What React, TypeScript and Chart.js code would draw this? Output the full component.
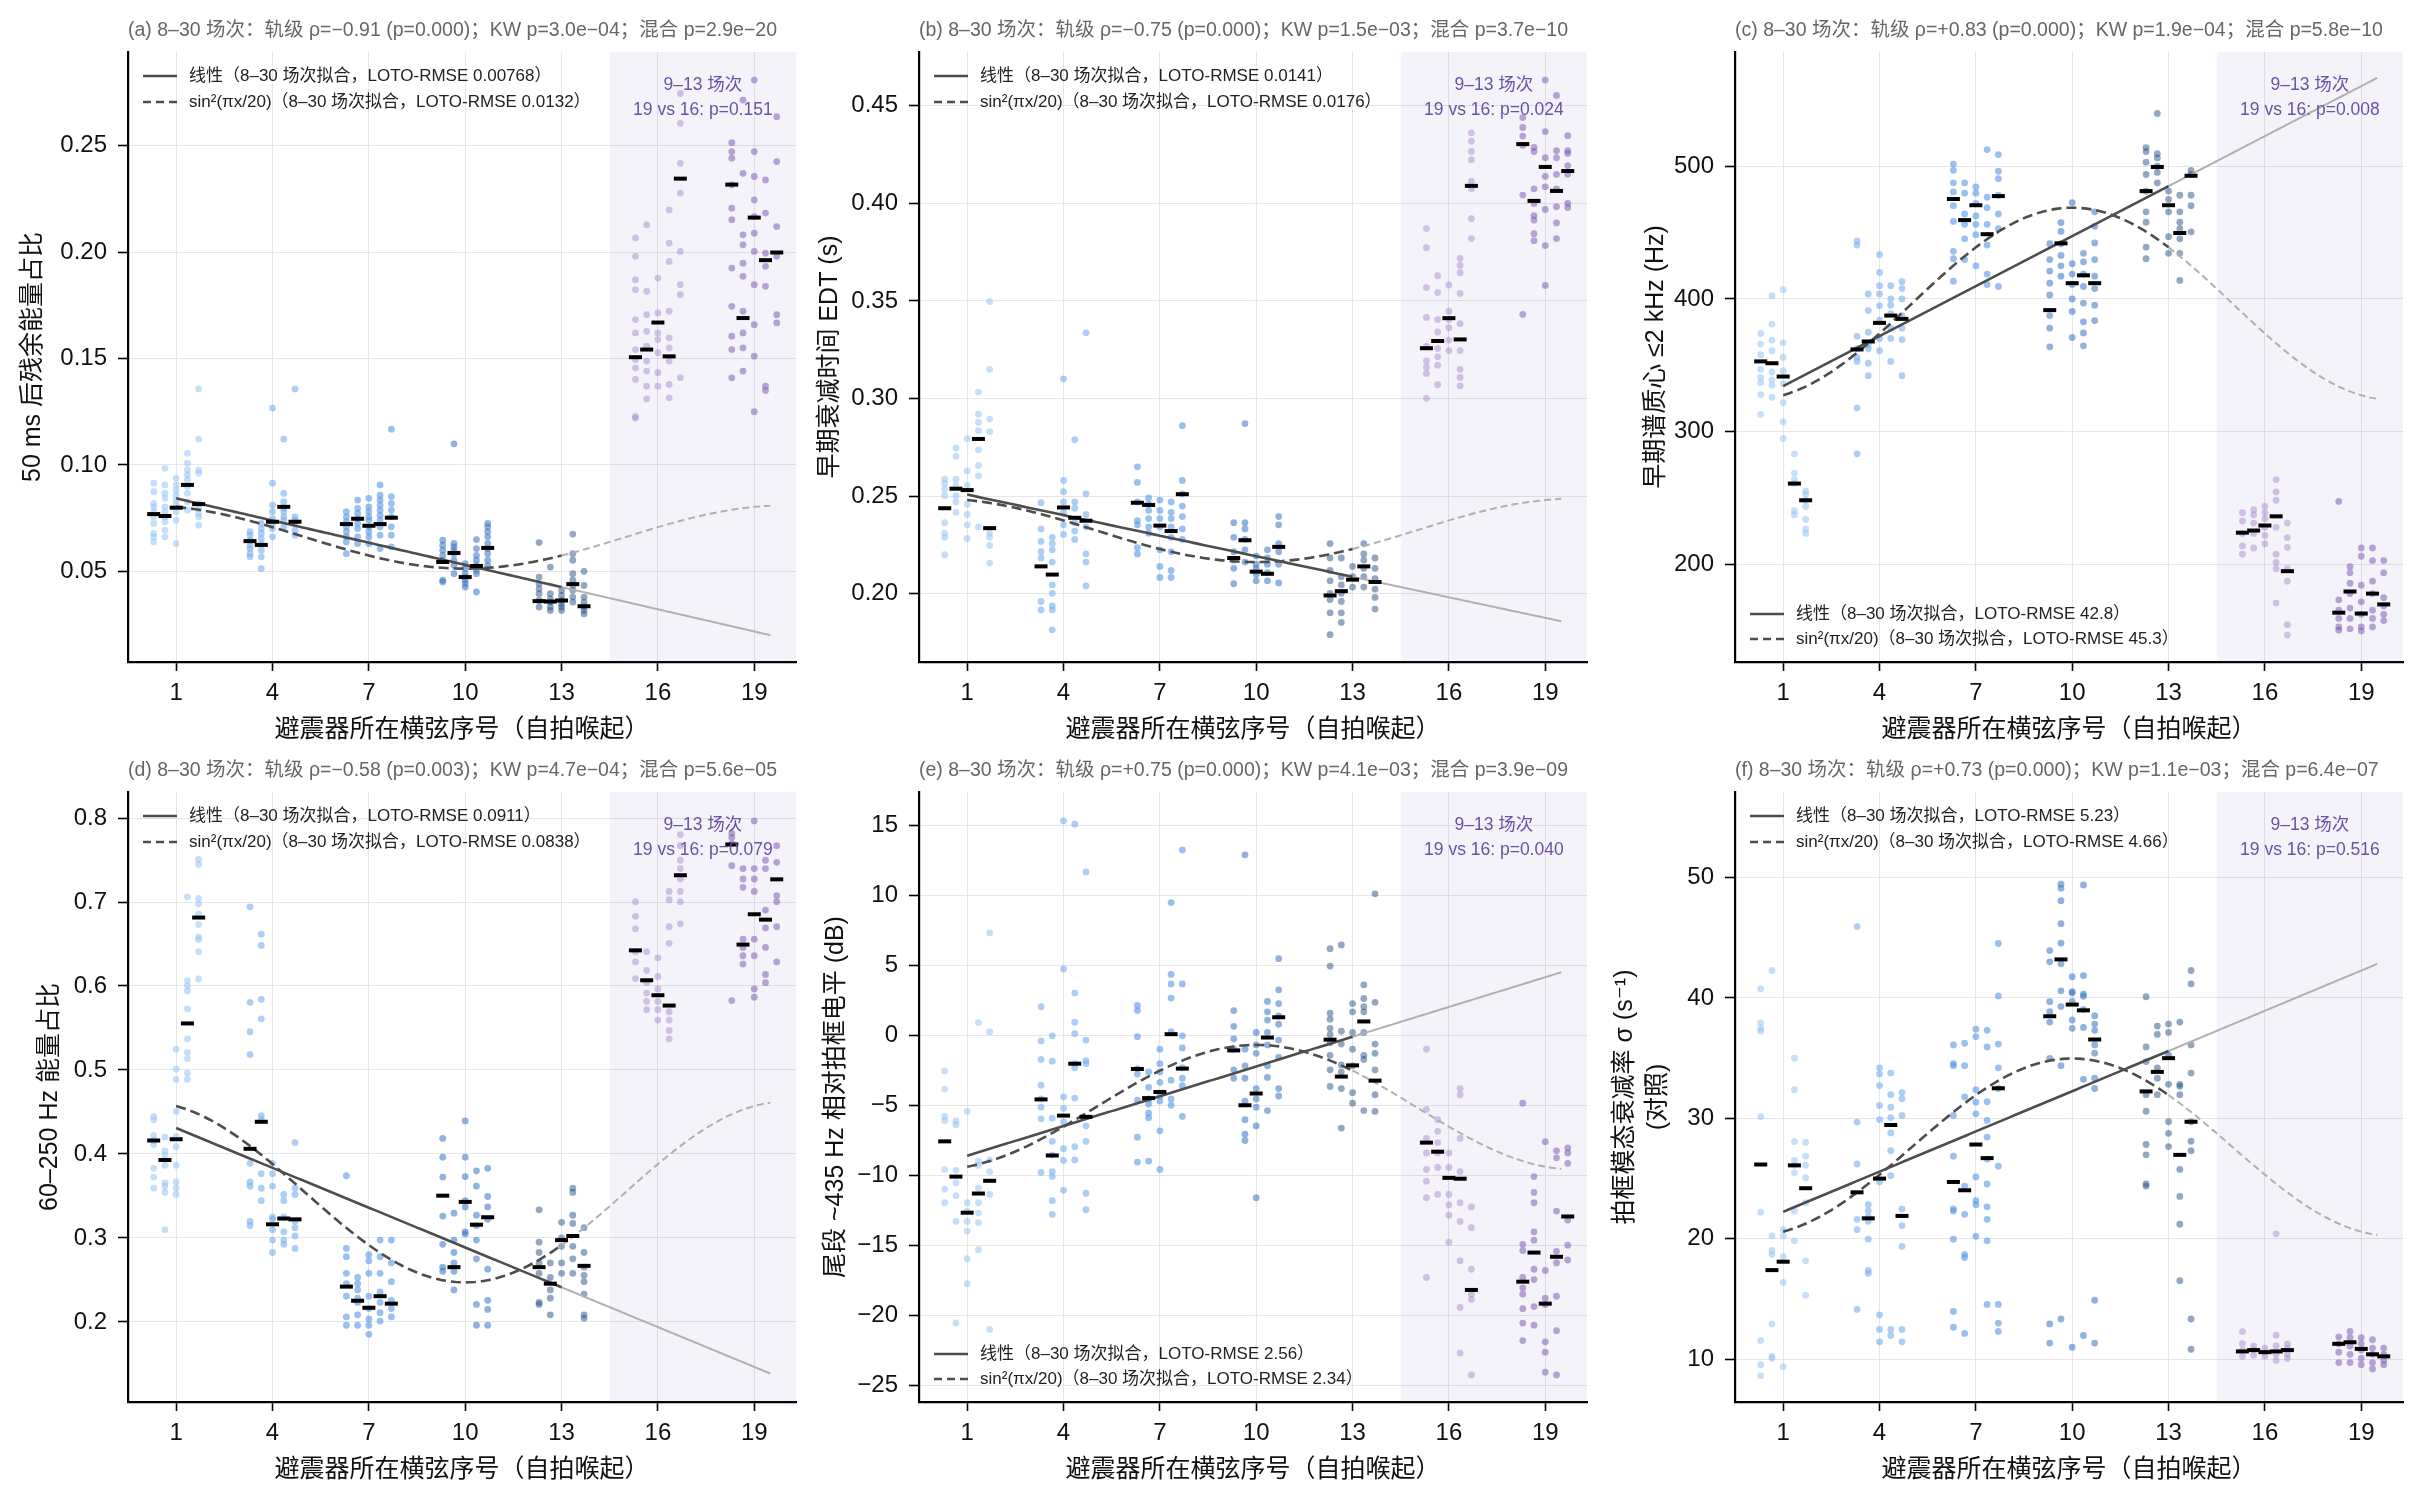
import React, { useEffect, useRef } from "react";
import { Chart, registerables } from "chart.js";

Chart.register(...registerables);

const FONT = '"Liberation Sans", "Noto Sans CJK SC", "DejaVu Sans", sans-serif';

// ---------- categories / positions ----------
const GROUPS = [1, 4, 7, 10, 13, 16, 19];
const SESSION_OFFSETS = [-0.7, -0.35, 0, 0.35, 0.7];
const X_TICKS = [1, 4, 7, 10, 13, 16, 19];
const GROUP_COLORS = [
  "rgba(150,195,245,0.55)",
  "rgba(120,175,238,0.6)",
  "rgba(85,150,228,0.6)",
  "rgba(55,115,195,0.55)",
  "rgba(40,80,135,0.5)",
  "rgba(170,140,210,0.5)",
  "rgba(130,95,180,0.55)",
];

// ---------- panel (a) ----------
const PTS_A = [
  [0.0914,0.0874,0.0819,0.0803,0.078,0.0756,0.0725,0.0678,0.0662,0.0638],
  [0.0984,0.0906,0.0866,0.0843,0.0803,0.078,0.0756,0.0733,0.0693,0.0662],
  [0.0937,0.0906,0.0882,0.0858,0.0835,0.0811,0.078,0.074,0.063],
  [0.1055,0.1008,0.0976,0.0953,0.0929,0.0898,0.0866,0.0827,0.0788],
  [0.1357,0.1121,0.0976,0.0961,0.0819,0.0796,0.0772,0.0756,0.0717],
  [0.0686,0.067,0.0646,0.0623,0.0607,0.0583,0.0568],
  [0.0725,0.0701,0.0678,0.0654,0.063,0.0599,0.0568,0.0513],
  [0.1267,0.0914,0.0811,0.078,0.0748,0.0725,0.0701,0.0662],
  [0.1121,0.0866,0.0827,0.0796,0.078,0.0756,0.0741,0.0709],
  [0.1357,0.0756,0.074,0.0725,0.0693,0.067],
  [0.078,0.0756,0.0733,0.0709,0.0686,0.0662,0.0638,0.0583],
  [0.0835,0.0796,0.0772,0.0748,0.0725,0.0701,0.0662,0.063],
  [0.0843,0.0803,0.078,0.0756,0.0741,0.0709,0.0686,0.0662,0.063],
  [0.0906,0.0858,0.0835,0.0811,0.0788,0.0764,0.0741,0.0709,0.067,0.0607],
  [0.1168,0.0851,0.0819,0.0788,0.0756,0.0709,0.067,0.0615],
  [0.0646,0.0623,0.0599,0.0575,0.0552,0.0458,0.045],
  [0.1099,0.0631,0.0615,0.0599,0.0583,0.0552,0.0528,0.0489],
  [0.0536,0.0513,0.0489,0.0473,0.0458,0.0442,0.0426],
  [0.0649,0.0607,0.0575,0.0552,0.0528,0.0505,0.0489,0.0403],
  [0.0725,0.0709,0.0686,0.0662,0.0631,0.0607,0.0583,0.0552,0.0528],
  [0.0635,0.0473,0.0442,0.0418,0.0395,0.0363,0.0332],
  [0.052,0.0395,0.0371,0.0355,0.0332,0.0316],
  [0.041,0.0387,0.0363,0.0347,0.0332,0.0316],
  [0.0675,0.0583,0.0552,0.0489,0.0458,0.0434,0.041,0.0379,0.0355],
  [0.05,0.0434,0.0379,0.0355,0.0332,0.0316,0.03],
  [0.2066,0.198,0.187,0.1823,0.1683,0.162,0.1542,0.1495,0.1456,0.1402,0.1228,0.122],
  [0.2128,0.1816,0.1706,0.1628,0.1558,0.1488,0.1441,0.137,0.131],
  [0.1878,0.1714,0.162,0.1589,0.1527,0.1433,0.137],
  [0.2198,0.2042,0.1956,0.1722,0.1597,0.155,0.1488,0.1378,0.1315],
  [0.2745,0.2605,0.2417,0.2277,0.2003,0.1847,0.18,0.141],
  [0.2514,0.2472,0.2441,0.2316,0.2206,0.2152,0.1925,0.1745,0.1605,0.1542,0.1409],
  [0.2714,0.237,0.2081,0.2034,0.1948,0.1886,0.1722,0.162,0.155,0.1441],
  [0.2808,0.2472,0.2355,0.2245,0.2167,0.2089,0.2003,0.1847,0.1659,0.1511,0.125],
  [0.2339,0.2183,0.1995,0.1933,0.1839,0.137,0.135],
  [0.2636,0.2425,0.212,0.198,0.1706,0.1667],
];
const MED_A = [0.0769,0.076,0.0799,0.0906,0.0816, 0.0642,0.0624,0.0733,0.0803,0.0733, 0.0722,0.0747,0.0714,0.0722,0.0752, 0.0544,0.0586,0.0473,0.0525,0.061, 0.036,0.0358,0.0363,0.044,0.0336, 0.1506,0.1542,0.1669,0.151,0.2345, 0.2317,0.169,0.2162,0.1962,0.1998];
const LIN_A = [0.0843, -0.003475];
const SIN_A = [0.081, -0.02973];
const YT_A = [0.05, 0.1, 0.15, 0.2, 0.25];
const RMSE_A = ["0.00768", "0.0132"];

// ---------- panel (b) ----------
const PTS_B = [
  [0.2587,0.2565,0.2534,0.2502,0.2364,0.231,0.2289,0.22],
  [0.2746,0.2704,0.2587,0.2555,0.2502,0.247,0.2417],
  [0.2795,0.2629,0.2555,0.2459,0.2406,0.2353,0.2283],
  [0.3033,0.292,0.2878,0.2835,0.2736,0.2657,0.2604,0.2342],
  [0.3497,0.315,0.2895,0.2831,0.231,0.2289,0.2247,0.2157],
  [0.2466,0.2332,0.2268,0.2215,0.2183,0.196,0.1917],
  [0.2289,0.2257,0.2225,0.2162,0.2045,0.2002,0.1938,0.1917,0.1815],
  [0.3101,0.258,0.2523,0.247,0.2417,0.2353,0.2304],
  [0.2789,0.247,0.2438,0.2364,0.2321,0.2278],
  [0.3337,0.2512,0.2406,0.2342,0.2204,0.2162,0.204],
  [0.265,0.257,0.247,0.2374,0.2353,0.2236,0.2204],
  [0.2491,0.2459,0.2427,0.2385,0.2342,0.231],
  [0.248,0.2427,0.2385,0.2342,0.2225,0.214,0.2083],
  [0.247,0.2417,0.2385,0.2342,0.2289,0.2215,0.2119,0.2083],
  [0.2861,0.258,0.2512,0.2449,0.2395,0.2332,0.2278],
  [0.2364,0.2289,0.2215,0.2172,0.213,0.2051],
  [0.2872,0.2364,0.2332,0.2278,0.2225,0.2162],
  [0.2193,0.2151,0.213,0.2098,0.2066],
  [0.2225,0.2183,0.2151,0.2108,0.2066],
  [0.2395,0.2353,0.2257,0.2215,0.2151,0.2055],
  [0.2257,0.2183,0.2119,0.2066,0.2002,0.197,0.1902,0.179],
  [0.2183,0.2087,0.2045,0.2002,0.196,0.1902,0.1853],
  [0.214,0.2087,0.2034],
  [0.2257,0.2204,0.2172,0.213,0.2087,0.2034],
  [0.2183,0.213,0.2077,0.2023,0.1981,0.1921],
  [0.3871,0.3773,0.3569,0.3416,0.3267,0.3193,0.3161,0.3129,0.3001],
  [0.363,0.3543,0.3405,0.3341,0.3256,0.3214,0.3171,0.3071],
  [0.3582,0.3448,0.3405,0.3363,0.3299,0.3246],
  [0.3718,0.3682,0.3645,0.3539,0.3384,0.3246,0.315,0.3108,0.3065],
  [0.4362,0.4319,0.4266,0.4224,0.4113,0.4075,0.3922,0.382],
  [0.444,0.4389,0.4345,0.4298,0.4043,0.3431],
  [0.4287,0.4266,0.4075,0.4,0.3937,0.3915,0.3845,0.3809],
  [0.4632,0.4368,0.4234,0.4139,0.4085,0.3969,0.3784,0.358],
  [0.4553,0.427,0.4234,0.4149,0.4075,0.3983,0.39,0.382],
  [0.4347,0.427,0.4256,0.4194,0.4149,0.4,0.3979],
];
const MED_B = [0.2438,0.2538,0.2531,0.2793,0.2336, 0.214,0.2098,0.2442,0.2389,0.2374, 0.2466,0.2455,0.2349,0.2321,0.251, 0.2183,0.2274,0.2113,0.2102,0.224, 0.1991,0.2013,0.2072,0.214,0.206, 0.3258,0.3295,0.3412,0.3303,0.409, 0.4304,0.4013,0.4187,0.4064,0.4166];
const LIN_B = [0.2508, -0.00351];
const SIN_B = [0.2488, -0.0326];
const YT_B = [0.2, 0.25, 0.3, 0.35, 0.4, 0.45];
const RMSE_B = ["0.0141", "0.0176"];

// ---------- panel (c) ----------
const PTS_C = [
  [374,366,358,347,341,337,328,313],
  [402.5,381,369,361,345,339,335,326],
  [407,367,356,346,336,322,307.5,295],
  [283.4,268.8,264,261,240.6,237.5],
  [255.3,253,248.4,243.8,234,226.6,223.4],
  [443.8,440.6,371.9,362.5,356,353,318,283.4],
  [403.75,391.25,375,365.6,362.5,351.6,342.2],
  [433.4,420,410,403.8,395,384,370,361],
  [410,400,395.3,389,378,370.3,353],
  [413,407.8,400,387.5,378,369.4,342.2],
  [501.6,496.9,487.5,480.6,470.3,458.4,435.9,430.3,413.4],
  [487.5,479.7,464,456.25,445.3,429.7],
  [484.4,479.7,471.9,462.5,456.25,448.4,425],
  [512.5,476.6,468.75,456.25,440.6,418.75,410.9],
  [508.75,496.25,490.6,478.1,464,453,409.4],
  [441.6,429.7,421,411.9,403,387.5,378,364],
  [457.5,450.9,441.6,432.8,425,417.2],
  [472.5,426.6,418.75,410.9,400,390.6,371],
  [434.4,428,418.75,409.4,396.9,382.8,374.4,364.7],
  [465.6,454.7,442.2,429.7,417.2,407.8,395.3,383.75],
  [514,511,503,493.75,481.25,465.6,457.8,439,430.3],
  [539.7,509.4,506.25,500,495.3,487.5],
  [481.25,475,465.6,446.9,434.4],
  [478.1,465.6,457.8,453,445.3,434.4,414],
  [496.9,493.75,478.1,470.3,450.6],
  [239,232.8,223.4,214,207.8],
  [241.25,237.5,231.25,223.4,212.5],
  [243.75,239,234.4,228,221.9,215.6],
  [264,254.7,248.4,228,207.8,201.6,196.9,171],
  [231.25,220.3,213,196.9,187.5,154.7,146.9],
  [247.5,173.4,165.6,159.4,153,150.6],
  [198.4,193.75,185.9,178.1,167.2,159.4,151.6],
  [212.5,206.25,184.4,171.9,162.5,153,150],
  [212.5,203,187.5,178.1,165.6,159.4,153],
  [203,193.75,175,168.75,162.5,157.8],
];
const MED_C = [353,351.6,341.6,261,248.4, 362,368,382,387.5,385, 475.3,459.4,470.6,448.8,477.5, 391.6,441.9,411.9,417.8,411.9, 481.25,499.4,470.6,449.7,492.8, 224,225.6,229.4,236.3,195, 163.75,179.7,163.1,178.1,170];
const LIN_C = [334.4, 12.55];
const SIN_C = [323.95, 144.8];
const YT_C = [200, 300, 400, 500];
const RMSE_C = ["42.8", "45.3"];

// ---------- panel (d) ----------
const PTS_D = [
  [0.4447,0.4407,0.422,0.416,0.4111,0.3829,0.3725,0.3592],
  [0.42,0.4037,0.3987,0.3864,0.3656,0.3616,0.3542,0.3097],
  [0.5248,0.501,0.4887,0.4506,0.421,0.4086,0.3864,0.3666,0.3592,0.3518],
  [0.7062,0.6063,0.6004,0.594,0.5727,0.5371,0.5208,0.5134,0.4961,0.4887],
  [0.7507,0.7447,0.7042,0.6978,0.6854,0.6731,0.6582,0.6553,0.6409,0.6083],
  [0.6943,0.5806,0.5455,0.5183,0.3888,0.3666,0.3616,0.3196,0.3147],
  [0.6617,0.6483,0.5841,0.5609,0.4457,0.4407,0.3765,0.3592,0.3443],
  [0.3888,0.3765,0.3616,0.3246,0.3221,0.3097,0.2974,0.2826],
  [0.3518,0.3443,0.3246,0.3073,0.2974,0.2924],
  [0.4135,0.3592,0.3518,0.3196,0.3122,0.3023,0.2875],
  [0.374,0.2875,0.2776,0.2578,0.2455,0.2306,0.2059,0.196],
  [0.2529,0.2455,0.2381,0.2282,0.2232,0.2084,0.196],
  [0.28,0.2727,0.2578,0.2306,0.2158,0.2035,0.196,0.1852],
  [0.2974,0.2776,0.2578,0.2356,0.2232,0.2109,0.201],
  [0.2974,0.2702,0.2479,0.2257,0.2158,0.2059],
  [0.4185,0.3962,0.3725,0.326,0.2924,0.2652,0.2603],
  [0.3295,0.2974,0.2826,0.2702,0.2603,0.2381],
  [0.4393,0.3962,0.373,0.3443,0.3369,0.3073,0.3048],
  [0.3799,0.3616,0.327,0.3147,0.2974,0.2751,0.2208,0.196],
  [0.3829,0.3493,0.3369,0.3221,0.2628,0.2257,0.2148,0.196],
  [0.3335,0.2949,0.2826,0.2702,0.2578,0.2232,0.2208],
  [0.2702,0.2529,0.2381,0.2282,0.2084],
  [0.3186,0.2999,0.29,0.2702,0.2578],
  [0.3592,0.3542,0.327,0.3172,0.29,0.2751,0.2578],
  [0.3122,0.2826,0.2652,0.2554,0.2479,0.2331,0.2084,0.2044],
  [0.7003,0.6829,0.6681,0.6409,0.6286,0.6088],
  [0.6409,0.6187,0.6039,0.5915,0.5816,0.5717],
  [0.6335,0.6113,0.5964,0.5816,0.5717,0.5594],
  [0.7126,0.7027,0.6706,0.6508,0.5693,0.5594,0.547,0.5371],
  [0.7803,0.767,0.7497,0.7398,0.7274,0.7126,0.7003,0.674],
  [0.7818,0.7769,0.7695,0.7433,0.5826],
  [0.7398,0.7274,0.7175,0.6558,0.6459,0.636,0.6261],
  [0.7966,0.7398,0.7274,0.7126,0.6558,0.636,0.5964,0.5866],
  [0.7497,0.7398,0.6904,0.6691,0.6459,0.6137,0.6039],
  [0.767,0.7472,0.7077,0.7003,0.6706,0.6286],
];
const MED_D = [0.416,0.3928,0.4175,0.5554,0.6815, 0.4061,0.4383,0.3162,0.3231,0.3221, 0.242,0.2252,0.2168,0.2306,0.2217, 0.3503,0.2652,0.3429,0.3157,0.3246, 0.2652,0.2455,0.2974,0.3023,0.2667, 0.6424,0.6068,0.589,0.5767,0.7319, 0.7685,0.6493,0.6854,0.679,0.727];
const LIN_D = [0.4308, -0.0158];
const SIN_D = [0.4623, -0.2153];
const YT_D = [0.2, 0.3, 0.4, 0.5, 0.6, 0.7, 0.8];
const RMSE_D = ["0.0911", "0.0838"];

// ---------- panel (e) ----------
const PTS_E = [
  [-2.55,-3.83,-5.79,-6.08,-9.58,-10.98,-11.96],
  [-6.11,-6.38,-9.64,-10.53,-11.45,-13.29,-20.56],
  [-5.43,-11.96,-12.55,-13.29,-13.98,-15.96,-17.74],
  [0.92,-8.99,-9.29,-10.92,-11.96,-12.7,-13.38,-15.31],
  [7.33,0.27,-8.9,-9.73,-11.36,-21.01],
  [2.05,-0.39,-1.72,-3.56,-4.54,-5.13,-5.96,-9.79],
  [-0.03,-1.84,-5.91,-7.57,-8.55,-9.73,-10.09,-11.81,-12.79],
  [15.34,4.75,-4.39,-5.22,-6.17,-8.1,-8.93,-11.07],
  [15.1,3.03,0.95,0.12,-2.02,-2.31,-4.48,-7.95,-8.9],
  [11.69,-0.33,-1.81,-2.02,-6.47,-7.57,-11.28,-12.46],
  [2.14,1.78,-0.09,-2.37,-2.76,-4.63,-7.27,-9.05],
  [-2.61,-3.71,-4.54,-4.9,-5.55,-5.88,-8.99],
  [-0.98,-2.02,-2.61,-3.35,-4.33,-4.69,-6.82,-9.58],
  [9.5,4.36,3.68,2.67,0.27,-3.2,-4.54,-4.99],
  [13.26,3.68,-0.03,-0.89,-2.31,-3.06,-3.59,-5.79],
  [1.78,0.65,-0.24,-0.98,-2.46,-3.06],
  [12.91,-0.98,-2.17,-3.06,-4.69,-6.02,-7.06,-7.51],
  [0.21,-0.68,-1.28,-3.8,-4.54,-5.13,-6.47,-11.6],
  [2.43,1.69,1.1,0.21,-0.68,-2.17,-3.0,-5.37],
  [5.49,3.26,2.28,1.39,0.8,-0.33,-1.57,-3.8,-4.33],
  [6.2,4.96,1.6,1.16,0.5,0.06,-0.53,-1.42,-2.46,-3.65],
  [6.47,0.3,-0.62,-2.11,-2.61,-3.8,-6.62],
  [2.28,1.69,0.21,-0.98,-2.17,-4.09,-4.84],
  [3.62,2.64,2.05,1.69,0.21,-1.42,-1.72,-5.37],
  [10.12,2.37,-0.62,-1.28,-2.46,-4.24,-5.43],
  [-0.98,-5.28,-7.36,-8.4,-9.58,-10.42,-11.6,-17.3],
  [-6.02,-6.85,-7.66,-8.4,-9.44,-11.36],
  [-8.4,-9.44,-11.36,-12.11,-12.85,-14.78],
  [-3.8,-4.24,-7.36,-9.73,-11.96,-13.29,-16.11,-19.44,-22.7],
  [-12.26,-13.74,-16.71,-18.49,-18.87,-24.27],
  [-4.84,-14.93,-15.37,-17.3,-18.04,-18.49,-19.53,-20.56,-21.81],
  [-10.09,-11.22,-11.96,-14.04,-14.63,-16.71,-17.45,-19.38,-20.71],
  [-7.6,-16.8,-18.78,-19.23,-21.9,-22.64,-24.07],
  [-8.25,-8.75,-12.55,-15.43,-16.26,-18.64,-21.1,-24.27],
  [-8.04,-8.4,-9.14,-13.2,-14.99,-16.05],
];
const MED_E = [-7.57,-10.09,-12.67,-11.3,-10.39, -4.57,-8.58,-5.73,-2.02,-5.82, -2.4,-4.48,-4.04,0.09,-2.37, -1.07,-4.99,-4.15,-0.15,1.3, -0.3,-2.94,-2.14,1.0,-3.23, -7.66,-8.31,-10.18,-10.24,-18.19, -17.6,-15.52,-19.17,-15.82,-12.94];
const LIN_E = [-8.6, 0.709];
const SIN_E = [-9.6, 8.92];
const YT_E = [-25, -20, -15, -10, -5, 0, 5, 10, 15];
const RMSE_E = ["2.56", "2.34"];

// ---------- panel (f) ----------
const PTS_F = [
  [40.76,37.93,37.48,37.24,30.14,22.21,11.55,9.55,8.62],
  [42.28,20.24,19.03,18.69,12.93,10.24,10.07],
  [20.76,20.24,18.52,16.38,9.38],
  [35.0,32.38,28.07,26.52,26.1,25.48,22.31,19.83],
  [28.0,26.86,26.1,25.07,23.0,18.17,15.31],
  [45.93,29.69,26.21,21.62,20.76,14.14],
  [22.83,22.31,21.79,21.45,19.97,17.38,17.14],
  [34.2,33.69,32.72,31.07,29.9,24.72,13.69,12.48,11.45],
  [33.76,31.97,30.93,30.07,28.79,27.31,25.24,12.48,11.97],
  [32.14,31.62,30.24,22.48,21.1,19.38,12.48,11.45],
  [36.1,34.55,34.38,30.24,26.86,22.48,22.31,19.97,13.97,12.66],
  [36.24,34.38,31.79,24.38,22.03,18.69,18.45,12.14],
  [37.41,36.79,32.38,31.34,30.38,25.14,23.17,22.83,20.21],
  [37.31,35.93,31.38,29.83,28.45,26.62,24.55,22.66,21.62,19.83,14.55],
  [44.52,40.17,36.17,34.2,32.48,26.03,14.55,13.0,12.31],
  [43.93,43.0,39.69,38.86,38.0,34.97,12.93,11.34],
  [49.45,49.1,48.07,46.17,44.55,42.83,40.59,39.28,34.38,13.34],
  [41.76,40.52,40.41,39.72,38.17,37.48,11.0],
  [49.38,41.86,40.31,40.14,39.03,37.55,33.24,11.97],
  [38.52,37.83,37.31,36.1,35.41,33.34,32.48,14.9,11.34],
  [40.1,35.93,34.72,31.97,30.59,27.83,26.97,24.55,24.38],
  [37.66,36.97,34.2,33.34,31.97],
  [37.83,37.14,35.24,32.83,29.72,28.76,27.66],
  [38.0,32.83,32.66,31.97,25.76,23.52,21.21,16.52],
  [42.28,41.17,36.1,33.76,29.72,28.1,27.31,13.34,10.83],
  [12.3,11.3,10.76,10.24],
  [11.1,10.76,10.34],
  [10.93,10.59,10.24],
  [20.41,12.0,11.1,10.41,9.9],
  [11.28,10.93,10.41,10.07],
  [11.86,11.28,10.59,9.72],
  [12.31,11.79,11.1,10.41,9.72],
  [11.79,11.28,10.76,10.07,9.55],
  [11.62,10.93,10.41,9.72,9.2],
  [10.93,10.41,9.9,9.55],
];
const MED_F = [26.17,17.4,18.1,26.1,24.2, 23.86,21.7,25.0,29.45,21.9, 24.72,24.03,27.83,26.7,32.5, 38.48,43.2,39.45,38.97,36.55, 32.24,33.86,35.0,26.97,29.72, 10.65,10.76,10.59,10.65,10.76, 11.28,11.41,10.86,10.41,10.24];
const LIN_F = [22.24, 1.113];
const SIN_F = [20.23, 14.74];
const YT_F = [10, 20, 30, 40, 50];
const RMSE_F = ["5.23", "4.66"];

// ---------- layout ----------
const COL_LEFT = [128, 919, 1735];
const ROW_TOP = [52, 792];
const PLOT_W = 668;
const PLOT_H = 610;
const PAD_L = 125, PAD_T = 40, PAD_R = 15, PAD_B = 90;
const CW = PAD_L + PLOT_W + PAD_R;
const CH = PAD_T + PLOT_H + PAD_B;
const X_MIN = -0.5, X_MAX = 20.3;
const SHADE_FROM = 14.5;

const PANELS = [
  { key: "a", col: 0, row: 0, pts: PTS_A, med: MED_A, lin: LIN_A, sin: SIN_A, yTicks: YT_A, yMin: 0.0074, yMax: 0.294, dec: 2,
    title: "(a) 8–30 场次：轨级 ρ=−0.91 (p=0.000)；KW p=3.0e−04；混合 p=2.9e−20",
    yLabel: ["50 ms 后残余能量占比"], yOff: [95], legend: "top", rmse: RMSE_A, p: "0.151" },
  { key: "b", col: 1, row: 0, pts: PTS_B, med: MED_B, lin: LIN_B, sin: SIN_B, yTicks: YT_B, yMin: 0.165, yMax: 0.4776, dec: 2,
    title: "(b) 8–30 场次：轨级 ρ=−0.75 (p=0.000)；KW p=1.5e−03；混合 p=3.7e−10",
    yLabel: ["早期衰减时间 EDT (s)"], yOff: [89], legend: "top", rmse: RMSE_B, p: "0.024" },
  { key: "c", col: 2, row: 0, pts: PTS_C, med: MED_C, lin: LIN_C, sin: SIN_C, yTicks: YT_C, yMin: 126.6, yMax: 586, dec: 0,
    title: "(c) 8–30 场次：轨级 ρ=+0.83 (p=0.000)；KW p=1.9e−04；混合 p=5.8e−10",
    yLabel: ["早期谱质心 ≤2 kHz (Hz)"], yOff: [79], legend: "bottom", rmse: RMSE_C, p: "0.008" },
  { key: "d", col: 0, row: 1, pts: PTS_D, med: MED_D, lin: LIN_D, sin: SIN_D, yTicks: YT_D, yMin: 0.1046, yMax: 0.831, dec: 1,
    title: "(d) 8–30 场次：轨级 ρ=−0.58 (p=0.003)；KW p=4.7e−04；混合 p=5.6e−05",
    yLabel: ["60–250 Hz 能量占比"], yOff: [78], legend: "top", rmse: RMSE_D, p: "0.079" },
  { key: "e", col: 1, row: 1, pts: PTS_E, med: MED_E, lin: LIN_E, sin: SIN_E, yTicks: YT_E, yMin: -26.2, yMax: 17.4, dec: 0,
    title: "(e) 8–30 场次：轨级 ρ=+0.75 (p=0.000)；KW p=4.1e−03；混合 p=3.9e−09",
    yLabel: ["尾段 ~435 Hz 相对拍框电平 (dB)"], yOff: [83], legend: "bottom", rmse: RMSE_E, p: "0.040" },
  { key: "f", col: 2, row: 1, pts: PTS_F, med: MED_F, lin: LIN_F, sin: SIN_F, yTicks: YT_F, yMin: 6.45, yMax: 57.1, dec: 0,
    title: "(f) 8–30 场次：轨级 ρ=+0.73 (p=0.000)；KW p=1.1e−03；混合 p=6.4e−07",
    yLabel: ["拍框模态衰减率 σ (s⁻¹)", "(对照)"], yOff: [110, 77], legend: "top", rmse: RMSE_F, p: "0.516" },
];

function sampleCurve(fn: (x: number) => number, x0: number, x1: number) {
  const out: { x: number; y: number }[] = [];
  const n = 80;
  for (let i = 0; i <= n; i++) {
    const x = x0 + ((x1 - x0) * i) / n;
    out.push({ x, y: fn(x) });
  }
  return out;
}

function makeDecor(cfg: any) {
  return {
    id: "decor" + cfg.key,
    beforeDatasetsDraw(chart: any) {
      const { ctx, chartArea: ca, scales } = chart;
      const x0 = scales.x.getPixelForValue(SHADE_FROM);
      ctx.save();
      ctx.fillStyle = "rgba(110, 90, 185, 0.07)";
      ctx.fillRect(x0, ca.top, ca.right - x0, ca.bottom - ca.top);
      ctx.restore();
    },
    afterDatasetsDraw(chart: any) {
      const { ctx, chartArea: ca, scales } = chart;
      ctx.save();
      // title
      ctx.font = `19.5px ${FONT}`;
      ctx.fillStyle = "#666";
      ctx.textAlign = "left";
      ctx.textBaseline = "middle";
      ctx.fillText(cfg.title, ca.left, ca.top - 21);
      // y label
      ctx.font = `25px ${FONT}`;
      ctx.fillStyle = "#111";
      cfg.yLabel.forEach((t: string, i: number) => {
        ctx.save();
        ctx.translate(ca.left - cfg.yOff[i], (ca.top + ca.bottom) / 2);
        ctx.rotate(-Math.PI / 2);
        ctx.textAlign = "center";
        ctx.textBaseline = "middle";
        ctx.fillText(t, 0, 0);
        ctx.restore();
      });
      // x label
      ctx.textAlign = "center";
      ctx.textBaseline = "middle";
      ctx.fillText("避震器所在横弦序号（自拍喉起）", (ca.left + ca.right) / 2, ca.bottom + 68);
      // legend
      const rows = cfg.legend === "top" ? [ca.top + 24, ca.top + 50] : [ca.bottom - 48, ca.bottom - 23];
      const labels = [
        `线性（8–30 场次拟合，LOTO-RMSE ${cfg.rmse[0]}）`,
        `sin²(πx/20)（8–30 场次拟合，LOTO-RMSE ${cfg.rmse[1]}）`,
      ];
      rows.forEach((y, i) => {
        ctx.beginPath();
        ctx.strokeStyle = "#4d4d4d";
        ctx.lineWidth = 2.5;
        ctx.setLineDash(i === 0 ? [] : [8, 5]);
        ctx.moveTo(ca.left + 15, y);
        ctx.lineTo(ca.left + 49, y);
        ctx.stroke();
        ctx.setLineDash([]);
        ctx.font = `17px ${FONT}`;
        ctx.fillStyle = "#222";
        ctx.textAlign = "left";
        ctx.textBaseline = "middle";
        ctx.fillText(labels[i], ca.left + 61, y);
      });
      // annotation
      const xs = scales.x.getPixelForValue(SHADE_FROM);
      const cx = (xs + ca.right) / 2;
      ctx.font = `17.5px ${FONT}`;
      ctx.fillStyle = "#6a51a3";
      ctx.textAlign = "center";
      ctx.fillText("9–13 场次", cx, ca.top + 33);
      ctx.fillText(`19 vs 16: p=${cfg.p}`, cx, ca.top + 58);
      ctx.restore();
    },
  };
}

function buildConfig(cfg: any) {
  const datasets: any[] = [];
  // medians
  const medData: any[] = [];
  GROUPS.forEach((g, gi) => {
    SESSION_OFFSETS.forEach((off, si) => {
      medData.push({ x: g + off, y: cfg.med[gi * 5 + si] });
    });
  });
  datasets.push({
    data: medData, pointStyle: "line", pointRadius: 6.5, pointBorderWidth: 4,
    pointBorderColor: "#000", pointBackgroundColor: "#000", order: 0,
  });
  const lin = (x: number) => cfg.lin[0] + cfg.lin[1] * (x - 1);
  const sn = (x: number) => cfg.sin[0] + cfg.sin[1] * Math.pow(Math.sin((Math.PI * x) / 20), 2);
  const lineBase = { showLine: true, pointRadius: 0, fill: false, tension: 0 };
  datasets.push({ ...lineBase, data: sampleCurve(lin, 1, 13), borderColor: "#4d4d4d", borderWidth: 2.6, order: 1 });
  datasets.push({ ...lineBase, data: sampleCurve(sn, 1, 13), borderColor: "#4d4d4d", borderWidth: 2.6, borderDash: [10, 5], order: 1 });
  datasets.push({ ...lineBase, data: sampleCurve(lin, 13, 19.5), borderColor: "#b0b0b0", borderWidth: 2, order: 2 });
  datasets.push({ ...lineBase, data: sampleCurve(sn, 13, 19.5), borderColor: "#b0b0b0", borderWidth: 2, borderDash: [7, 4], order: 2 });
  // raw points
  GROUPS.forEach((g, gi) => {
    const data: any[] = [];
    SESSION_OFFSETS.forEach((off, si) => {
      cfg.pts[gi * 5 + si].forEach((v: number) => data.push({ x: g + off, y: v }));
    });
    datasets.push({
      data, pointRadius: 3.4, pointBorderWidth: 0, pointBackgroundColor: GROUP_COLORS[gi],
      backgroundColor: GROUP_COLORS[gi], order: 3,
    });
  });

  const fmt = (v: number) => {
    const s = Number(v).toFixed(cfg.dec);
    return s.replace("-", "−");
  };

  return {
    type: "scatter",
    data: { datasets },
    plugins: [makeDecor(cfg)],
    options: {
      responsive: false,
      animation: false,
      events: [],
      layout: { padding: { top: PAD_T, right: PAD_R, left: 0, bottom: 0 } },
      plugins: { legend: { display: false }, title: { display: false }, tooltip: { enabled: false } },
      scales: {
        x: {
          type: "linear", min: X_MIN, max: X_MAX,
          afterBuildTicks: (s: any) => { s.ticks = X_TICKS.map((v) => ({ value: v })); },
          afterFit: (s: any) => { s.height = PAD_B; },
          ticks: { autoSkip: false, maxRotation: 0, minRotation: 0, padding: 8, color: "#111",
            font: { family: FONT, size: 24 }, callback: (v: any) => String(v) },
          grid: { color: "#e6e6e6", lineWidth: 1, drawTicks: true, tickLength: 9, tickColor: "#000", tickWidth: 1.6 },
          border: { display: true, color: "#000", width: 2.2 },
        },
        y: {
          type: "linear", min: cfg.yMin, max: cfg.yMax,
          afterBuildTicks: (s: any) => { s.ticks = cfg.yTicks.map((v: number) => ({ value: v })); },
          afterFit: (s: any) => { s.width = PAD_L; },
          ticks: { autoSkip: false, padding: 11, color: "#111", font: { family: FONT, size: 24 },
            callback: (v: any) => fmt(v) },
          grid: { color: "#e6e6e6", lineWidth: 1, drawTicks: true, tickLength: 10, tickColor: "#000", tickWidth: 1.6 },
          border: { display: true, color: "#000", width: 2.2 },
        },
      },
    },
  };
}

function Panel({ cfg }: { cfg: any }) {
  const ref = useRef<HTMLCanvasElement>(null);
  useEffect(() => {
    if (!ref.current) return;
    const chart = new Chart(ref.current, buildConfig(cfg) as any);
    return () => chart.destroy();
  }, [cfg]);
  const left = COL_LEFT[cfg.col] - PAD_L;
  const top = ROW_TOP[cfg.row] - PAD_T;
  return (
    <div style={{ position: "absolute", left, top, width: CW, height: CH }}>
      <canvas ref={ref} width={CW} height={CH} style={{ width: CW, height: CH, display: "block" }} />
    </div>
  );
}

export default function App() {
  return (
    <div style={{ position: "absolute", left: 0, top: 0, width: 2425, height: 1503, background: "#fff" }}>
      {PANELS.map((p) => (
        <Panel key={p.key} cfg={p} />
      ))}
    </div>
  );
}
